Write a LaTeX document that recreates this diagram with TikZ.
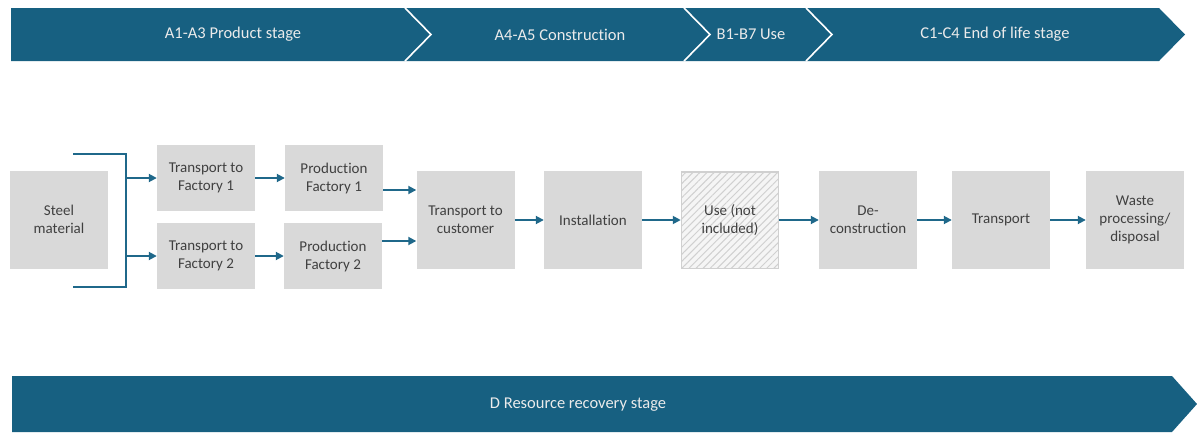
\documentclass[tikz,border=0pt]{standalone}
\usepackage{fontspec}
\setmainfont{Carlito}[Ligatures={NoCommon}]
\usetikzlibrary{patterns.meta,arrows.meta}
\definecolor{band}{RGB}{23,96,129}
\definecolor{arrc}{RGB}{31,104,138}
\definecolor{boxf}{RGB}{217,217,217}
\definecolor{boxt}{RGB}{64,64,64}
\definecolor{hatchc}{RGB}{208,208,208}
\tikzset{
  stagebox/.style={fill=boxf, draw=none, minimum width=98pt, minimum height=98pt, align=center,
    text=boxt, font=\fontsize{15}{18}\selectfont, inner sep=2pt},
  smallbox/.style={stagebox, minimum height=66pt},
  usebox/.style={stagebox, fill=white!96!black, draw=hatchc, line width=1.5pt,
    postaction={pattern={Lines[angle=45,distance=5pt,line width=1pt]}, pattern color=hatchc}},
  arr/.style={draw=arrc, line width=1.8pt, -{Triangle[length=8pt,width=8pt]}},
  bline/.style={draw=arrc, line width=1.8pt},
  bandtext/.style={text=white!92!black, font=\fontsize{16.5}{19}\selectfont},
  sep/.style={draw=white, line width=1.6pt}
}
\begin{document}
\begin{tikzpicture}[x=1pt,y=-1pt]
\useasboundingbox (0,0) rectangle (1197,434);
% top band
\fill[band] (11,8) -- (1159,8) -- (1185,34.5) -- (1159,61) -- (11,61) -- cycle;
\draw[sep] (405,8) -- (431,34.5) -- (405,61);
\draw[sep] (684,8) -- (710,34.5) -- (684,61);
\draw[sep] (806,8) -- (832,34.5) -- (806,61);
\node[bandtext] (s1) at (233,34.5) {A1-A3 Product stage};
\node[bandtext] (s2) at (560,34.5) {A4-A5 Construction};
\node[bandtext] (s3) at (751,34.5) {B1-B7 Use};
\node[bandtext] (s4) at (995,34.5) {C1-C4 End of life stage};
% bottom band
\fill[band] (12,376) -- (1172,376) -- (1197,404) -- (1172,432) -- (12,432) -- cycle;
\node[bandtext] (sd) at (578,405) {D Resource recovery stage};
% boxes
\node[stagebox] (steel) at (59,219.5) {Steel\\material};
\node[smallbox] (t1) at (206,178) {Transport to\\Factory 1};
\node[smallbox] (p1) at (334,178) {Production\\Factory 1};
\node[smallbox] (t2) at (206,256) {Transport to\\Factory 2};
\node[smallbox] (p2) at (333,256) {Production\\Factory 2};
\node[stagebox] (tc) at (465.5,220) {Transport to\\customer};
\node[stagebox] (inst) at (593,220) {Installation};
\node[usebox, minimum width=97pt, minimum height=96.5pt] (use) at (730,220) {Use (not\\included)};
\node[stagebox] (dec) at (868,220) {De-\\construction};
\node[stagebox] (tr) at (1001,220) {Transport};
\node[stagebox] (waste) at (1135,220) {Waste\\processing/\\disposal};
% bracket
\coordinate (bt) at (73,154);
\coordinate (bb) at (73,287);
\coordinate (bx) at (126,154);
\coordinate (bxb) at (126,287);
\draw[bline] (bt) -- (bx) -- (bxb) -- (bb);
\draw[arr] (bx |- t1) -- (t1.west);
\draw[arr] (bx |- t2) -- (t2.west);
% connectors
\draw[arr] (t1) -- (p1);
\draw[arr] (t2) -- (p2);
\draw[arr] ([yshift=-12pt]p1.east) -- ([yshift=-12pt]p1.east -| tc.west);
\draw[arr] ([yshift=15pt]p2.east) -- ([yshift=15pt]p2.east -| tc.west);
\draw[arr] (tc) -- (inst);
\draw[arr] (inst) -- (use);
\draw[arr] (use) -- (dec);
\draw[arr] (dec) -- (tr);
\draw[arr] (tr) -- (waste);
\end{tikzpicture}
\end{document}
